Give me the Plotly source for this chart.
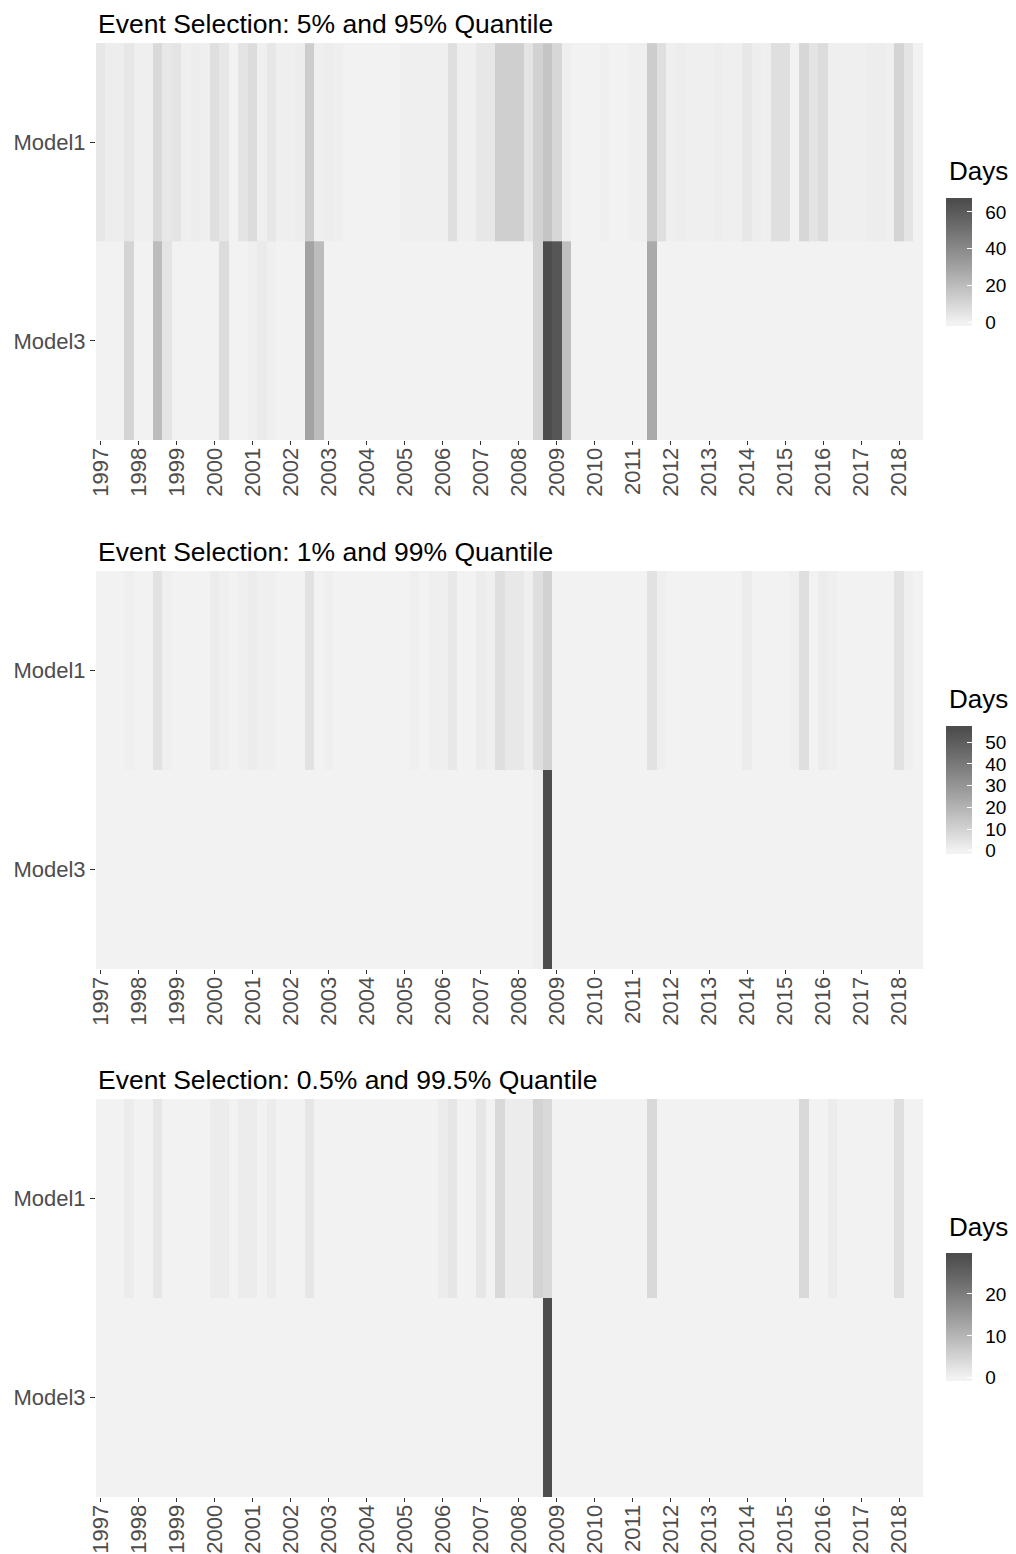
import pandas as pd
import plotly.graph_objects as go

# ---------------- data ----------------
quarters = pd.date_range("1997-01-01", "2018-07-01", freq="QS")  # 87 quarterly tiles
models = ["Model1", "Model3"]

titles = [
    "Event Selection: 5% and 95% Quantile",
    "Event Selection: 1% and 99% Quantile",
    "Event Selection: 0.5% and 99.5% Quantile",
]

# Panel 1 (5% / 95%)
p1_model1 = [4, 2, 2, 4,   1, 1, 9, 4,   5, 1, 2, 1,   7, 4, 0, 5,
             8, 1, 4, 1,   1, 2, 14, 1,  2, 1, 0, 0,   0, 0, 0, 0,
             1, 1, 1, 1,   1, 7, 1, 1,   4, 4, 13, 13, 13, 5, 12, 17,
             10, 1, 0, 0,  0, 1, 0, 0,   1, 1, 14, 7,  1, 2, 1, 1,
             1, 2, 1, 1,   4, 2, 1, 7,   7, 0, 10, 5,  8, 1, 1, 1,
             1, 2, 2, 1,   11, 5, 0]
p1_model3 = [0, 0, 0, 11,  0, 0, 20, 5,  0, 0, 0, 0,   0, 8, 0, 0,
             1, 3, 1, 0,   0, 0, 30, 20, 0, 0, 0, 0,   0, 0, 0, 0,
             0, 0, 0, 0,   0, 0, 0, 0,   0, 0, 0, 0,   0, 0, 11, 66,
             62, 19, 0, 0, 0, 0, 0, 0,   0, 0, 27, 0,  0, 0, 0, 0,
             0, 0, 0, 0,   0, 0, 0, 0,   0, 0, 0, 0,   0, 0, 0, 0,
             0, 0, 0, 0,   0, 0, 0]

# Panel 2 (1% / 99%)
p2_model1 = [0, 0, 0, 1,   0, 0, 5, 1,   0, 0, 0, 0,   2, 1, 0, 1,
             2, 1, 1, 0,   0, 0, 5, 0,   1, 0, 0, 0,   0, 0, 0, 0,
             0, 1, 0, 1,   1, 3, 0, 0,   2, 1, 6, 3,   3, 1, 6, 10,
             0, 0, 0, 0,   0, 0, 0, 0,   0, 0, 5, 1,   0, 0, 0, 0,
             0, 0, 0, 0,   2, 0, 0, 0,   0, 1, 6, 0,   2, 1, 0, 0,
             0, 0, 0, 0,   5, 1, 0]
p2_model3 = [0, 0, 0, 0,   0, 0, 0, 0,   0, 0, 0, 0,   0, 0, 0, 0,
             0, 0, 0, 0,   0, 0, 0, 0,   0, 0, 0, 0,   0, 0, 0, 0,
             0, 0, 0, 0,   0, 0, 0, 0,   0, 0, 0, 0,   0, 0, 1, 56,
             0, 0, 0, 0,   0, 0, 0, 0,   0, 0, 0, 0,   0, 0, 0, 0,
             0, 0, 0, 0,   0, 0, 0, 0,   0, 0, 0, 0,   0, 0, 0, 0,
             0, 0, 0, 0,   0, 0, 0]

# Panel 3 (0.5% / 99.5%)
p3_model1 = [0, 0, 0, 1,   0, 0, 2, 0,   0, 0, 0, 0,   1, 1, 0, 1,
             1, 0, 1, 0,   0, 0, 2, 0,   0, 0, 0, 0,   0, 0, 0, 0,
             0, 0, 0, 0,   1, 2, 0, 0,   2, 0, 4, 1,   1, 1, 5, 4,
             0, 0, 0, 0,   0, 0, 0, 0,   0, 0, 4, 0,   0, 0, 0, 0,
             0, 0, 0, 0,   0, 0, 0, 0,   0, 0, 4, 0,   0, 1, 0, 0,
             0, 0, 0, 0,   3, 0, 0]
p3_model3 = [0, 0, 0, 0,   0, 0, 0, 0,   0, 0, 0, 0,   0, 0, 0, 0,
             0, 0, 0, 0,   0, 0, 0, 0,   0, 0, 0, 0,   0, 0, 0, 0,
             0, 0, 0, 0,   0, 0, 0, 0,   0, 0, 0, 0,   0, 0, 0, 29,
             0, 0, 0, 0,   0, 0, 0, 0,   0, 0, 0, 0,   0, 0, 0, 0,
             0, 0, 0, 0,   0, 0, 0, 0,   0, 0, 0, 0,   0, 0, 0, 0,
             0, 0, 0, 0,   0, 0, 0]

legend_dticks = [20, 10, 10]
legend_title = "Days"

panels = [(p1_model1, p1_model3), (p2_model1, p2_model3), (p3_model1, p3_model3)]

# ---------------- colour scale (grey95 -> grey30, interpolated in CIELAB) ----------------
LOW_G, HIGH_G = 242, 77


def _lin(c):
    c = c / 255.0
    return c / 12.92 if c <= 0.04045 else ((c + 0.055) / 1.055) ** 2.4


def _L(g):
    y = _lin(g)
    f = y ** (1 / 3) if y > 0.008856 else 7.787 * y + 16 / 116
    return 116 * f - 16


def _gray(L):
    f = (L + 16) / 116
    y = f ** 3 if f ** 3 > 0.008856 else (f - 16 / 116) / 7.787
    c = 12.92 * y if y <= 0.0031308 else 1.055 * y ** (1 / 2.4) - 0.055
    v = max(0, min(255, round(c * 255)))
    return f"rgb({v},{v},{v})"


L_LOW, L_HIGH = _L(LOW_G), _L(HIGH_G)


def make_scale(vmax):
    # ggplot colourbar (nbin = 20) extends half a bin beyond the limits
    half = vmax / 38.0
    zmin, zmax = -half, vmax + half
    p0 = (0 - zmin) / (zmax - zmin)
    p1 = (vmax - zmin) / (zmax - zmin)
    stops = [[0.0, _gray(L_LOW)], [p0, _gray(L_LOW)]]
    n = 30
    for i in range(1, n):
        t = i / n
        stops.append([p0 + t * (p1 - p0), _gray(L_LOW + t * (L_HIGH - L_LOW))])
    stops += [[p1, _gray(L_HIGH)], [1.0, _gray(L_HIGH)]]
    return stops, zmin, zmax


# ---------------- layout geometry ----------------
# the page body has an 8px default margin, so the figure is placed at (8, 8)
OFF = 8
W, H = 1016 - OFF, 1554 - OFF
FONT = "Liberation Sans, Arial, Helvetica, sans-serif"
x_dom = [(96 - OFF) / W, (922.7 - OFF) / W]
panel_px = [(43.3, 440.0), (571.0, 969.0), (1099.0, 1497.0)]
bar_px = [(197.7, 325.7), (726.0, 854.0), (1253.5, 1381.0)]

x_range = [quarters[0] - pd.Timedelta(days=45), quarters[-1] + pd.Timedelta(days=45)]

fig = go.Figure()
annotations = []
for i, ((m1, m3), title) in enumerate(zip(panels, titles)):
    idx = "" if i == 0 else str(i + 1)
    vmax = max(max(m1), max(m3))
    scale, zmin, zmax = make_scale(vmax)
    btop, bbot = bar_px[i]
    cb_common = dict(
        x=(946 - OFF) / W, xanchor="left", xpad=0, ypad=0,
        y=1 - (bbot - OFF) / H, yanchor="bottom",
        len=bbot - btop, lenmode="pixels", thickness=26, thicknessmode="pixels",
        outlinewidth=0, tick0=0, dtick=legend_dticks[i],
    )
    # main tiles + labelled colour bar
    fig.add_trace(go.Heatmap(
        x=quarters, y=models, z=[m1, m3],
        colorscale=scale, zmin=zmin, zmax=zmax,
        xaxis="x" + idx, yaxis="y" + idx,
        colorbar=dict(
            **cb_common,
            ticks="outside", tickcolor="rgba(255,255,255,0)", ticklen=10, tickwidth=1,
            tickfont=dict(family=FONT, size=19, color="black"),
        ),
        hoverongaps=False,
    ))
    # identical overlay whose colour bar carries the white in-bar tick marks
    fig.add_trace(go.Heatmap(
        x=quarters, y=models, z=[m1, m3],
        colorscale=scale, zmin=zmin, zmax=zmax,
        xaxis="x" + idx, yaxis="y" + idx,
        colorbar=dict(
            **cb_common,
            ticks="inside", tickcolor="white", ticklen=5, tickwidth=1,
            showticklabels=False,
        ),
        hoverinfo="skip",
    ))
    top, bot = panel_px[i]
    y_dom = [1 - (bot - OFF) / H, 1 - (top - OFF) / H]
    fig.layout["xaxis" + idx] = dict(
        domain=x_dom, anchor="y" + idx, type="date", range=x_range,
        tick0="1997-01-01", dtick="M12", tickformat="%Y", tickangle=-90,
        ticks="outside", ticklen=4, tickwidth=1, tickcolor="#333333",
        ticklabelstandoff=-6,
        tickfont=dict(family=FONT, size=22, color="#4d4d4d"),
        showgrid=False, zeroline=False, showline=False, automargin=False,
    )
    fig.layout["yaxis" + idx] = dict(
        domain=y_dom, anchor="x" + idx, type="category",
        autorange="reversed",
        ticks="outside", ticklen=5, tickwidth=1, tickcolor="#333333",
        tickfont=dict(family=FONT, size=22, color="#4d4d4d"),
        showgrid=False, zeroline=False, showline=False, automargin=False,
    )
    annotations.append(dict(
        text=title, xref=("x" + idx + " domain"), yref=("y" + idx + " domain"),
        x=0, y=1, xanchor="left", yanchor="bottom", yshift=2, showarrow=False,
        font=dict(family=FONT, size=26.5, color="black"),
    ))
    annotations.append(dict(
        text=legend_title, xref="paper", yref="paper",
        x=(947 - OFF) / W, y=1 - (btop - OFF) / H, xanchor="left", yanchor="bottom",
        yshift=10, showarrow=False,
        font=dict(family=FONT, size=26, color="black"),
    ))

fig.update_layout(
    width=W, height=H, autosize=False,
    margin=dict(l=0, r=0, t=0, b=0, autoexpand=False),
    paper_bgcolor="white", plot_bgcolor="#ebebeb",
    annotations=annotations, showlegend=False,
    font=dict(family=FONT),
)

fig.write_html("out.html")
